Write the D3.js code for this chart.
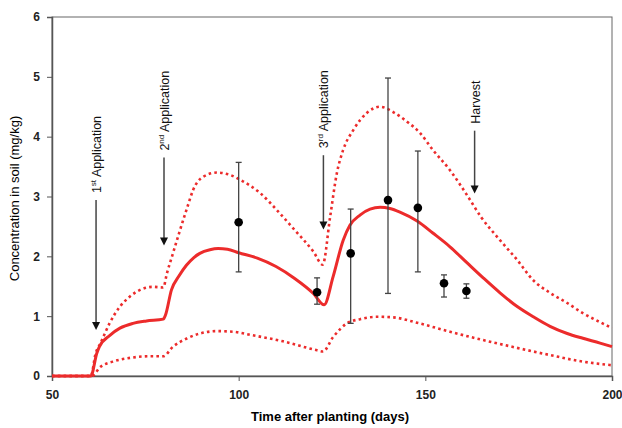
<!DOCTYPE html>
<html>
<head>
<meta charset="utf-8">
<script src="https://cdn.jsdelivr.net/npm/d3@7"></script>
<style>
  body { margin: 0; background: #fff; }
  text { font-family: "Liberation Sans", Arial, sans-serif; }
  .tick text { font-weight: bold; font-size: 12px; fill: #222; }
</style>
</head>
<body>
<script>
// model mean (solid)
var meanDays = [50, 60.4, 62, 62.7, 65.5, 68.2, 71.7, 75.3, 79.8, 80.4, 82, 84, 86, 88, 89.6, 92.3, 94.5, 97, 100, 105, 110, 115, 120, 122.9,
  125.3, 128, 129.8, 132.5, 135.2, 137.9, 140.5, 143.2, 147.8, 152, 156.6, 161.2, 165.5, 170, 174.6, 178.9, 183.4, 188, 192.2, 196.8, 200];
var meanConc = [0, 0, 0.38, 0.49, 0.68, 0.80, 0.88, 0.92, 0.95, 1.02, 1.44, 1.67, 1.85, 1.98, 2.05, 2.11, 2.13, 2.12, 2.06, 1.97, 1.83, 1.63, 1.38, 1.19,
  1.66, 2.27, 2.52, 2.69, 2.79, 2.82, 2.80, 2.74, 2.59, 2.39, 2.16, 1.89, 1.64, 1.39, 1.16, 0.99, 0.83, 0.71, 0.63, 0.55, 0.49];

// upper bound (dotted)
var upperDays = [50, 60.4, 61.7, 63, 65.5, 68.2, 70.9, 73.6, 77, 79.8, 80.8, 82.4, 84.3, 86.4, 87.8, 90.5, 94.2, 97.7, 100.4, 105.7, 111, 115, 120, 122.5,
  124.5, 126.3, 128, 130.7, 134.4, 137.9, 141.4, 145.1, 148.6, 152, 156.6, 161.2, 165, 170, 174.6, 178.9, 183.4, 188, 192.2, 196.8, 200];
var upperConc = [0, 0, 0.38, 0.55, 0.89, 1.16, 1.33, 1.44, 1.49, 1.48, 1.72, 2.05, 2.44, 2.85, 3.11, 3.33, 3.40, 3.36, 3.28, 3.06, 2.72, 2.44, 2.08, 1.86,
  2.66, 3.39, 3.78, 4.11, 4.40, 4.50, 4.41, 4.25, 4.06, 3.78, 3.44, 3.02, 2.65, 2.27, 1.94, 1.60, 1.39, 1.22, 1.05, 0.90, 0.80];

// lower bound (dotted)
var lowerDays = [50, 60.7, 62.9, 66.3, 71.7, 76.3, 79.8, 82.4, 86.2, 89.6, 94.2, 98.5, 103.8, 111.9, 121, 122.6,
  125.3, 129, 132.5, 137, 141.4, 147.8, 156.6, 165.5, 174.6, 183.4, 192.2, 200];
var lowerConc = [0, 0, 0.15, 0.24, 0.31, 0.33, 0.33, 0.49, 0.63, 0.71, 0.75, 0.74, 0.68, 0.58, 0.43, 0.41,
  0.65, 0.88, 0.95, 0.99, 0.98, 0.89, 0.74, 0.60, 0.47, 0.35, 0.24, 0.18];

// measured values with error bars
var obsDays = [100, 121, 130, 140, 148, 155, 161];
var obsConc = [2.57, 1.40, 2.05, 2.94, 2.81, 1.55, 1.42];
var obsLow  = [1.74, 1.20, 0.88, 1.38, 1.74, 1.32, 1.30];
var obsHigh = [3.57, 1.64, 2.79, 4.98, 3.76, 1.69, 1.54];

// event arrows
var eventNames = ["st Application", "nd Application", "rd Application", "Harvest"];
var eventPrefix = ["1", "2", "3", ""];
var eventDays = [61.8, 80, 122.7, 163.2];
var eventTop = [2.94, 3.65, 3.69, 4.1];     // value at arrow tail
var eventTip = [0.77, 2.18, 2.45, 3.05];    // value at arrow head

var xTicks = [50, 100, 150, 200];
var yTicks = [0, 1, 2, 3, 4, 5, 6];

var W = 622, H = 428;
var margin = {left: 52, right: 10, top: 17, bottom: 52};
var red = "#ec2b2b";

var svg = d3.select("body").append("svg")
  .attr("width", W).attr("height", H);

var x = d3.scaleLinear().domain([50, 200]).range([margin.left, W - margin.right]);
var y = d3.scaleLinear().domain([0, 6]).range([H - margin.bottom, margin.top]);

// frame
svg.append("rect")
  .attr("x", x(50)).attr("y", y(6))
  .attr("width", x(200) - x(50)).attr("height", y(0) - y(6))
  .attr("fill", "none").attr("stroke", "#666").attr("stroke-width", 1);

var xAxis = svg.append("g")
  .attr("transform", "translate(0," + y(0) + ")")
  .call(d3.axisBottom(x).tickValues(xTicks).tickSize(5).tickPadding(9).tickFormat(d3.format("d")));
var yAxis = svg.append("g")
  .attr("transform", "translate(" + x(50) + ",0)")
  .call(d3.axisLeft(y).tickValues(yTicks).tickSize(5).tickPadding(7).tickFormat(d3.format("d")));
[xAxis, yAxis].forEach(function(g) {
  g.select(".domain").attr("stroke", "#555").attr("stroke-width", 1.5);
  g.selectAll(".tick line").attr("stroke", "#555");
});

// axis titles
svg.append("text")
  .attr("x", (x(50) + x(200)) / 2 - 2).attr("y", 421)
  .attr("text-anchor", "middle")
  .attr("font-weight", "bold").attr("font-size", 13)
  .text("Time after planting (days)");
svg.append("text")
  .attr("transform", "translate(19," + (y(3) + 2) + ") rotate(-90)")
  .attr("text-anchor", "middle")
  .attr("font-size", 13)
  .text("Concentration in soil (mg/kg)");

function series(days, vals) {
  return days.map(function(d, i) { return [d, vals[i]]; });
}
var line = d3.line()
  .x(function(d) { return x(d[0]); })
  .y(function(d) { return y(d[1]); })
  .curve(d3.curveMonotoneX);

[series(upperDays, upperConc), series(lowerDays, lowerConc)].forEach(function(s) {
  svg.append("path")
    .attr("d", line(s))
    .attr("fill", "none").attr("stroke", red)
    .attr("stroke-width", 2.6)
    .attr("stroke-dasharray", "2.6,3.2");
});

svg.append("path")
  .attr("d", line(series(meanDays, meanConc)))
  .attr("fill", "none").attr("stroke", red)
  .attr("stroke-width", 3)
  .attr("stroke-linejoin", "round");

// error bars + points
var obs = obsDays.map(function(d, i) {
  return {day: d, v: obsConc[i], lo: obsLow[i], hi: obsHigh[i]};
});
var eb = svg.append("g").attr("stroke", "#444").attr("stroke-width", 1.3);
obs.forEach(function(o) {
  eb.append("line").attr("x1", x(o.day)).attr("x2", x(o.day))
    .attr("y1", y(o.lo)).attr("y2", y(o.hi));
  [o.lo, o.hi].forEach(function(v) {
    eb.append("line").attr("x1", x(o.day) - 3).attr("x2", x(o.day) + 3)
      .attr("y1", y(v)).attr("y2", y(v));
  });
});
svg.append("g").selectAll("circle")
  .data(obs).join("circle")
  .attr("cx", function(d) { return x(d.day); })
  .attr("cy", function(d) { return y(d.v); })
  .attr("r", 4.3)
  .attr("fill", "#000");

// event arrows
eventDays.forEach(function(d, i) {
  var ex = x(d), y0 = y(eventTop[i]), y1 = y(eventTip[i]);
  svg.append("line")
    .attr("x1", ex).attr("x2", ex).attr("y1", y0).attr("y2", y1 - 7)
    .attr("stroke", "#444").attr("stroke-width", 1.5);
  svg.append("path")
    .attr("d", "M" + (ex - 4) + "," + (y1 - 8) + "L" + (ex + 4) + "," + (y1 - 8) + "L" + ex + "," + y1 + "Z")
    .attr("fill", "#111");
  var t = svg.append("text")
    .attr("transform", "translate(" + (ex + 5) + "," + (y0 - 7) + ") rotate(-90)")
    .attr("font-size", 12.5).attr("fill", "#111");
  if (eventPrefix[i]) {
    t.append("tspan").text(eventPrefix[i]);
    t.append("tspan").attr("dy", -5).attr("font-size", 8).text(eventNames[i].slice(0, 2));
    t.append("tspan").attr("dy", 5).text(eventNames[i].slice(2));
  } else {
    t.text(eventNames[i]);
  }
});
</script>
</body>
</html>
